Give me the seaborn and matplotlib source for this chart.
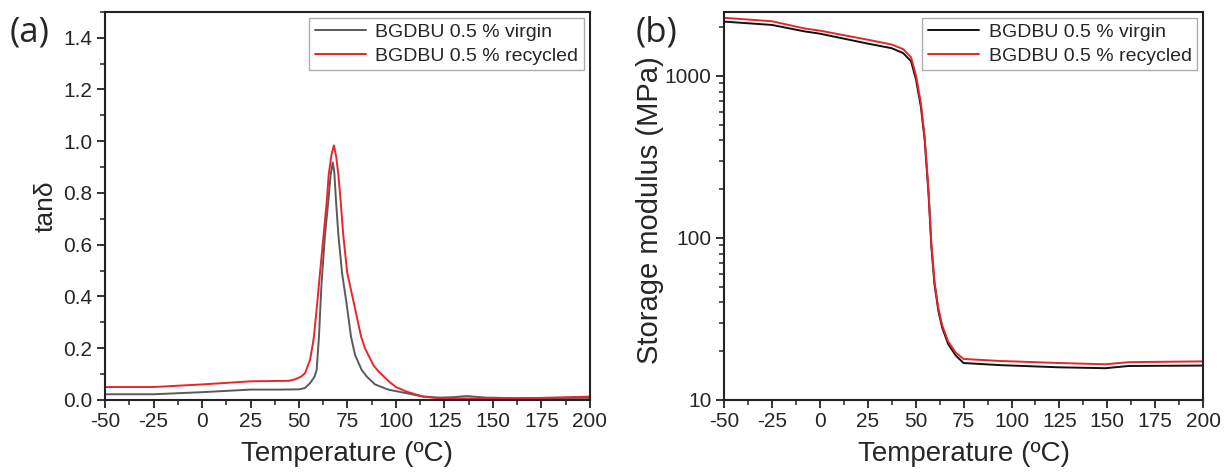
import numpy as np
import pandas as pd
import matplotlib
matplotlib.use("Agg")
import matplotlib.pyplot as plt
import seaborn as sns
from matplotlib.ticker import MultipleLocator, LogLocator, NullFormatter, FixedLocator

# tan delta curves
tan_temp_virgin = [-50, -25, 0, 25, 40, 50, 53, 55.7, 58, 59.1, 60.3, 61.1, 61.7, 63.4,
                   65.1, 66.3, 67.4, 68.2, 69.1, 70.3, 72.2, 74.5, 76.8, 78.9, 82.3,
                   85, 89.2, 96, 105.5, 114, 122.7, 130, 136.4, 146.7, 160, 200]
tan_virgin = [0.022, 0.022, 0.03, 0.04, 0.04, 0.041, 0.046, 0.065, 0.09, 0.116, 0.245,
              0.374, 0.46, 0.638, 0.767, 0.87, 0.918, 0.88, 0.767, 0.638, 0.49, 0.374,
              0.245, 0.174, 0.116, 0.09, 0.06, 0.04, 0.026, 0.013, 0.009, 0.011, 0.015,
              0.009, 0.007, 0.008]

tan_temp_recycled = [-50, -25, 0, 25, 45, 48, 51, 53.1, 55.7, 57.2, 57.7, 59.4, 60.8,
                     62.7, 64.3, 65.3, 66.8, 68, 69.2, 70.3, 71.5, 72.8, 74.9, 78.3,
                     82, 84, 88.3, 91, 96.9, 100, 105.5, 114, 122.7, 150, 175, 200]
tan_recycled = [0.05, 0.05, 0.06, 0.072, 0.074, 0.08, 0.09, 0.103, 0.155, 0.22, 0.245,
                0.374, 0.49, 0.638, 0.767, 0.87, 0.95, 0.984, 0.94, 0.87, 0.767, 0.638,
                0.49, 0.374, 0.245, 0.2, 0.135, 0.11, 0.068, 0.05, 0.032, 0.013, 0.006,
                0.005, 0.008, 0.013]

# storage modulus curves (MPa)
mod_temp = [-50, -25, -8, 0, 25, 37.5, 43.5, 47.6, 50.2, 52.7, 54.7, 56.7, 58.2, 59.8,
            61.8, 63.8, 66.9, 70.9, 75, 94, 125, 149, 161, 200]
mod_virgin = [2160, 2060, 1880, 1820, 1580, 1480, 1380, 1230, 945, 646, 402, 188, 88,
              52, 35.7, 28, 22.2, 18.8, 16.9, 16.4, 15.9, 15.7, 16.2, 16.3]
mod_recycled = [2280, 2170, 1960, 1900, 1670, 1560, 1460, 1300, 1000, 680, 420, 196, 92,
                54, 37, 29, 23, 19.6, 17.9, 17.4, 16.9, 16.6, 17.1, 17.3]

label_virgin = "BGDBU 0.5 % virgin"
label_recycled = "BGDBU 0.5 % recycled"
temp_ticks = [-50, -25, 0, 25, 50, 75, 100, 125, 150, 175, 200]

sns.set_style("ticks")
plt.rcParams['font.family'] = ['Liberation Sans', 'DejaVu Sans']
plt.rcParams['axes.linewidth'] = 1.5

fig = plt.figure(figsize=(12.24, 4.75), dpi=100)
ax1 = fig.add_axes([0.0858, 0.158, 0.3962, 0.817])
ax2 = fig.add_axes([0.5915, 0.158, 0.3915, 0.817])

tan_df = pd.concat([
    pd.DataFrame({"T": tan_temp_virgin, "v": tan_virgin, "s": label_virgin}),
    pd.DataFrame({"T": tan_temp_recycled, "v": tan_recycled, "s": label_recycled}),
])
mod_df = pd.concat([
    pd.DataFrame({"T": mod_temp, "v": mod_virgin, "s": label_virgin}),
    pd.DataFrame({"T": mod_temp, "v": mod_recycled, "s": label_recycled}),
])

sns.lineplot(data=tan_df, x="T", y="v", hue="s", ax=ax1, sort=False,
             palette={label_virgin: "#5a5a5a", label_recycled: "#e8262a"},
             linewidth=1.4)
sns.lineplot(data=mod_df, x="T", y="v", hue="s", ax=ax2, sort=False,
             palette={label_virgin: "#111111", label_recycled: "#e8262a"},
             linewidth=1.4)

ax1.set_xlim(-50, 200)
ax1.set_ylim(0, 1.5)
ax1.yaxis.set_major_locator(FixedLocator([0, 0.2, 0.4, 0.6, 0.8, 1.0, 1.2, 1.4]))
ax1.yaxis.set_minor_locator(MultipleLocator(0.1))
ax1.yaxis.set_major_formatter(matplotlib.ticker.FormatStrFormatter('%.1f'))
ax1.set_ylabel("tanδ", fontsize=19, labelpad=4)

ax2.set_xlim(-50, 200)
ax2.set_yscale("log")
ax2.set_ylim(10, 2480)
ax2.yaxis.set_major_locator(FixedLocator([10, 100, 1000]))
ax2.yaxis.set_major_formatter(matplotlib.ticker.FixedFormatter(["10", "100", "1000"]))
ax2.yaxis.set_minor_locator(LogLocator(base=10, subs=np.arange(2, 10)))
ax2.yaxis.set_minor_formatter(NullFormatter())
ax2.set_ylabel("Storage modulus (MPa)", fontsize=21)
ax2.yaxis.set_label_coords(-0.125, 0.49)

for ax in (ax1, ax2):
    ax.xaxis.set_major_locator(FixedLocator(temp_ticks))
    ax.xaxis.set_minor_locator(MultipleLocator(12.5))
    ax.set_xticklabels([str(t) for t in temp_ticks])
    ax.set_xlabel("Temperature (ºC)", fontsize=20, labelpad=7)
    ax.tick_params(axis="both", which="major", direction="out", length=6, width=1.3,
                   labelsize=15, color="#222222", pad=3)
    ax.tick_params(axis="both", which="minor", direction="out", length=3.5, width=1.1,
                   color="#222222")
    for sp in ax.spines.values():
        sp.set_visible(True)
        sp.set_color("#222222")
    leg = ax.legend(loc="upper right", fontsize=14, frameon=True, fancybox=False,
                    handlelength=2.6, handletextpad=0.5, borderpad=0.3,
                    labelspacing=0.3, borderaxespad=0.3)
    leg.get_frame().set_edgecolor("#999999")
    leg.get_frame().set_linewidth(1.0)

fig.text(0.008, 0.912, "(a)", fontsize=25, family=["Open Sans", "DejaVu Sans"])
fig.text(0.519, 0.912, "(b)", fontsize=25, family=["Open Sans", "DejaVu Sans"])

fig.savefig("out.png", dpi=100)
